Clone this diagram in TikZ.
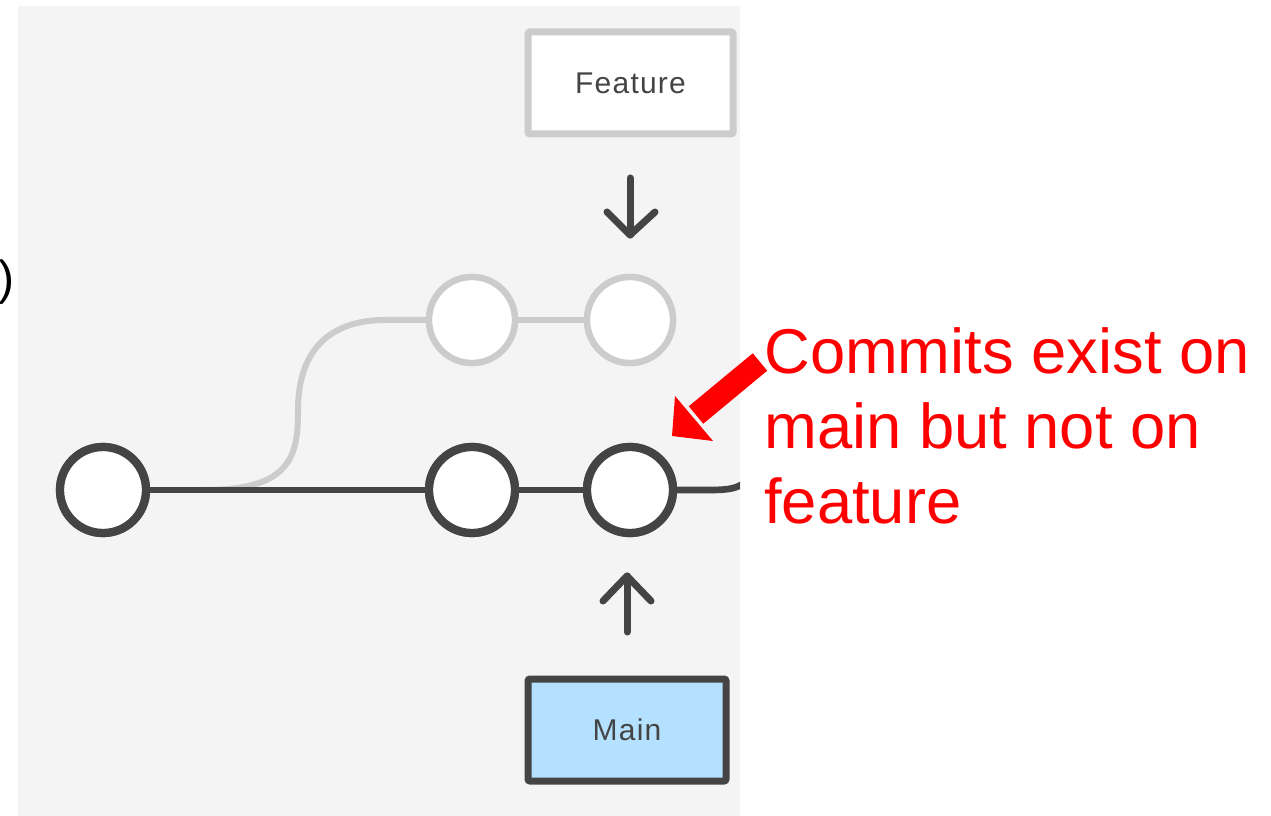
\documentclass[tikz,border=0pt]{standalone}
\usepackage{fontspec}
\setmainfont{Liberation Sans}
\newfontfamily\labelfont[LetterSpace=4]{Liberation Sans}
\definecolor{panel}{HTML}{F4F4F4}
\definecolor{ink}{HTML}{444444}
\definecolor{ghost}{HTML}{CCCCCC}
\definecolor{mainfill}{HTML}{B3E1FF}
\definecolor{callout}{HTML}{FF0000}
% coordinates are in pixels (1px = 0.75pt); sizes and widths below are in pt
\tikzset{
  commit/.style={circle, draw=ink, line width=6.2pt, fill=white, minimum size=64.5pt, inner sep=0},
  ghostcommit/.style={commit, draw=ghost, line width=4.8pt},
  branchbox/.style={draw=ink, line width=5.25pt, rounded corners=1.5pt, minimum width=148.5pt, minimum height=76.5pt, inner sep=0, font=\labelfont\fontsize{22.5}{26}\selectfont, text=ink},
  edge/.style={draw=ink, line width=5pt},
  ghostedge/.style={draw=ghost, line width=4.5pt},
  pointer/.style={draw=ink, line width=5.25pt, line cap=round, line join=round},
}
\begin{document}
\begin{tikzpicture}[x=0.75pt, y=-0.75pt]
  \useasboundingbox (0,0) rectangle (1271,816);
  % background panel
  \fill[panel] (18,6) rectangle (740,816);
  % clipped bracket at the left edge
  \node[anchor=east, inner sep=0, font=\fontsize{36}{40}\selectfont] (paren) at (15,282) {)};

  \begin{scope}
    \clip (18,6) rectangle (740,816);
    % commits
    \node[commit] (c1) at (103,490) {};
    \node[commit] (c2) at (472,490) {};
    \node[commit] (c3) at (630,490) {};
    \node[ghostcommit] (f1) at (472,320) {};
    \node[ghostcommit] (f2) at (630,320) {};
    \coordinate (fork) at (205,490);
    \coordinate (tail) at (745,482);

    % branch off main into the feature line
    \draw[ghostedge] (fork) .. controls (292,490) and (298,455) .. (298,410)
      .. controls (298,350) and (330,320) .. (385,320) -- (f1.west);
    \draw[ghostedge] (f1) -- (f2);
    % main line
    \draw[edge] (c1) -- (c2);
    \draw[edge] (c2) -- (c3);
    \draw[edge] (c3.east) -- (710,490) .. controls (730,490) and (738,488) .. (tail);
    \node[commit] at (c1) {};
    \node[commit] at (c2) {};
    \node[commit] at (c3) {};
    \node[ghostcommit] at (f1) {};
    \node[ghostcommit] at (f2) {};

    % branch labels
    \node[branchbox, draw=ghost, fill=white, minimum width=153.75pt] (feature) at (630.5,83) {Feature};
    \node[branchbox, fill=mainfill] (main) at (627,730) {Main};

    % head pointers
    \coordinate (dtop) at (630,178);
    \coordinate (dtip) at (630,235);
    \draw[pointer] (dtop) -- (dtip);
    \draw[pointer] (607,212) -- (dtip) -- (655,212);
    \coordinate (ubot) at (627,632);
    \coordinate (utip) at (627,576);
    \draw[pointer] (ubot) -- (utip);
    \draw[pointer] (603,601) -- (utip) -- (651,601);
  \end{scope}

  % annotation
  \node[anchor=north west, inner sep=0, align=left, text=callout,
        font=\fontsize{47.5}{56.25}\selectfont] (note) at (764,327)
        {Commits exist on\\main but not on\\feature};
  \coordinate (astart) at (760,362);
  \coordinate (atip) at (672,436);
  \draw[callout, line width=17pt] (astart) -- (696,415);
  \fill[callout] (atip) -- (675,396) -- (713,441) -- cycle;
\end{tikzpicture}
\end{document}
